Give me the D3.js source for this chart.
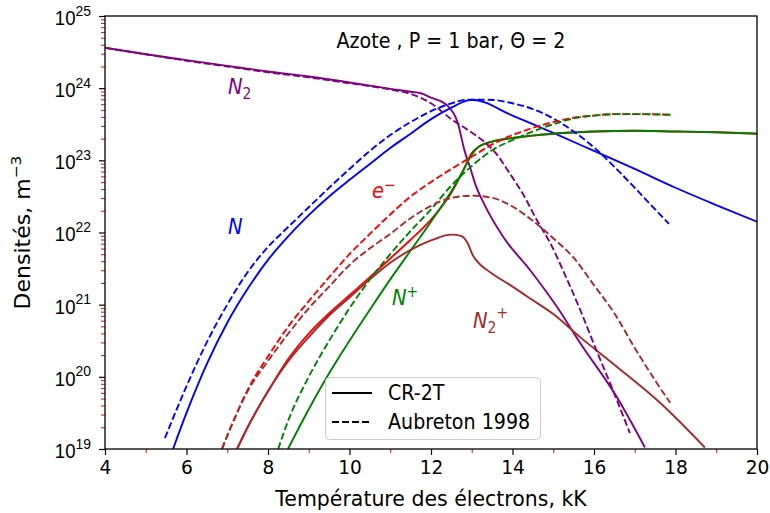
<!DOCTYPE html>
<html>
<head>
<meta charset="utf-8">
<script src="https://cdn.jsdelivr.net/npm/d3@7"></script>
<style>
  html, body { margin: 0; padding: 0; background: #fff; }
  svg { display: block; font-family: "DejaVu Sans", sans-serif; }
</style>
</head>
<body>
<svg id="chart" width="770" height="513"></svg>
<script>
// ---------------- DATA (densities in m^-3, temperatures in kK) ----------------
const xTicks = [4, 6, 8, 10, 12, 14, 16, 18, 20];
const xMinorTicks = [5, 7, 9, 11, 13, 15, 17, 19];
const yTickExponents = [19, 20, 21, 22, 23, 24, 25];

// N2 – CR-2T (solid)
const n2CR_T = [4, 5, 6, 7, 8, 9, 10, 11, 11.5, 11.75, 12.0, 12.4, 12.65, 12.83, 12.96, 13.1, 13.3, 13.77, 14.43, 15.09, 15.66, 16.56, 17.25];
const n2CR_n = [3.63e24, 2.95e24, 2.45e24, 2.04e24, 1.70e24, 1.45e24, 1.20e24, 9.77e23, 8.91e23, 8.51e23, 7.41e23, 5.75e23, 3.39e23, 1.32e23, 7.94e22, 4.47e22, 2.51e22, 8.71e21, 3.02e21, 9.33e20, 2.95e20, 5.25e19, 1.05e19];
// N2 – Aubreton 1998 (dashed)
const n2AU_T = [4, 5, 6, 7, 8, 9, 10, 11, 11.5, 12.0, 12.5, 12.96, 13.3, 13.62, 13.86, 14.27, 14.6, 14.92, 15.3, 15.66, 16.0, 16.56, 16.88];
const n2AU_n = [3.63e24, 2.95e24, 2.40e24, 2.00e24, 1.66e24, 1.41e24, 1.17e24, 9.55e23, 8.32e23, 6.17e23, 3.72e23, 2.51e23, 1.82e23, 1.20e23, 7.59e22, 3.31e22, 1.48e22, 7.24e21, 2.51e21, 8.51e20, 2.82e20, 4.79e19, 1.66e19];

// N – CR-2T
const nCR_T = [5.67, 6.0, 6.5, 7.0, 7.5, 8.0, 8.5, 9.0, 9.5, 10.0, 10.5, 11.0, 11.5, 12.0, 12.5, 12.9, 13.0, 14, 15, 16, 17, 18, 19, 20];
const nCR_n = [1.0e19, 3.16e19, 1.51e20, 5.62e20, 1.66e21, 4.17e21, 8.91e21, 1.74e22, 3.16e22, 5.37e22, 8.91e22, 1.48e23, 2.34e23, 3.72e23, 5.37e23, 6.76e23, 6.92e23, 4.17e23, 2.40e23, 1.35e23, 7.59e22, 4.17e22, 2.40e22, 1.41e22];
// N – Aubreton
const nAU_T = [5.47, 6.0, 6.5, 7.0, 7.5, 8.0, 8.5, 9.0, 9.5, 10.0, 10.5, 11.0, 11.5, 12.0, 12.5, 12.9, 13.4, 14.0, 14.5, 15.0, 15.5, 16.0, 16.5, 17.0, 17.5, 17.84];
const nAU_n = [1.41e19, 7.41e19, 3.02e20, 1.0e21, 2.82e21, 6.31e21, 1.20e22, 2.24e22, 4.17e22, 7.59e22, 1.35e23, 2.24e23, 3.39e23, 4.79e23, 6.17e23, 6.92e23, 6.92e23, 6.17e23, 5.13e23, 3.80e23, 2.51e23, 1.51e23, 8.13e22, 4.17e22, 2.09e22, 1.32e22];

// e- – CR-2T
const eCR_T = [7.24, 7.5, 8.0, 8.5, 9.0, 9.5, 10.0, 10.5, 11.0, 11.5, 12.0, 12.5, 12.8, 13.0, 13.2, 13.5, 14, 15, 16, 17, 18, 19, 20];
const eCR_n = [1.0e19, 2.0e19, 6.31e19, 1.78e20, 3.98e20, 7.59e20, 1.35e21, 2.40e21, 4.37e21, 7.94e21, 1.51e22, 3.55e22, 7.41e22, 1.26e23, 1.58e23, 1.82e23, 2.04e23, 2.34e23, 2.51e23, 2.57e23, 2.51e23, 2.45e23, 2.34e23];
// e- – Aubreton
const eAU_T = [6.87, 7.2, 7.5, 8.0, 8.5, 9.0, 9.5, 10.0, 10.5, 11.0, 11.5, 12.0, 12.5, 13.0, 13.5, 14.0, 14.5, 15.0, 15.5, 16.0, 16.5, 17.0, 17.9];
const eAU_n = [1.0e19, 2.82e19, 6.61e19, 1.91e20, 5.01e20, 1.12e21, 2.40e21, 5.01e21, 9.55e21, 1.78e22, 3.16e22, 5.01e22, 7.59e22, 1.12e23, 1.66e23, 2.24e23, 2.82e23, 3.39e23, 3.89e23, 4.17e23, 4.37e23, 4.37e23, 4.27e23];

// N+ – CR-2T
const npCR_T = [8.49, 9.0, 9.5, 10.0, 10.5, 11.0, 11.5, 12.0, 12.5, 12.8, 13.0, 13.15, 13.5, 14, 15, 16, 17, 18, 19, 20];
const npCR_n = [1.0e19, 3.55e19, 1.12e20, 3.16e20, 8.51e20, 2.24e21, 5.62e21, 1.41e22, 3.72e22, 7.41e22, 1.20e23, 1.51e23, 1.82e23, 2.04e23, 2.34e23, 2.51e23, 2.57e23, 2.51e23, 2.45e23, 2.34e23];
// N+ – Aubreton
const npAU_T = [8.25, 8.5, 9.0, 9.5, 10.0, 10.5, 11.0, 11.5, 12.0, 12.5, 13.0, 13.5, 14.0, 14.5, 15.0, 15.5, 16.0, 16.5, 17.0, 17.9];
const npAU_n = [1.0e19, 2.51e19, 1.0e20, 3.16e20, 8.91e20, 2.24e21, 5.01e21, 1.05e22, 2.09e22, 4.47e22, 8.32e22, 1.38e23, 1.91e23, 2.51e23, 3.16e23, 3.80e23, 4.17e23, 4.37e23, 4.37e23, 4.27e23];

// N2+ – CR-2T
const n2pCR_T = [7.24, 7.5, 8.0, 8.5, 9.0, 9.5, 10.0, 10.5, 11.0, 11.5, 12.0, 12.5, 12.75, 12.9, 13.03, 13.2, 13.45, 14.0, 14.5, 15.0, 15.66, 16.56, 17.62, 18.72];
const n2pCR_n = [1.0e19, 2.0e19, 6.31e19, 1.66e20, 3.55e20, 7.08e20, 1.26e21, 2.24e21, 3.80e21, 5.75e21, 7.76e21, 9.33e21, 8.91e21, 7.08e21, 4.79e21, 3.63e21, 2.82e21, 1.78e21, 1.15e21, 7.41e20, 3.55e20, 1.38e20, 4.37e19, 1.05e19];
// N2+ – Aubreton
const n2pAU_T = [6.87, 7.2, 7.5, 8.0, 8.5, 9.0, 9.5, 10.0, 10.5, 11.0, 11.5, 12.0, 12.5, 13.0, 13.5, 14.0, 14.5, 15.0, 15.5, 16.0, 16.5, 17.0, 17.5, 17.87];
const n2pAU_n = [1.0e19, 2.82e19, 6.31e19, 1.66e20, 3.98e20, 8.91e20, 1.78e21, 3.55e21, 6.03e21, 9.55e21, 1.58e22, 2.34e22, 3.02e22, 3.24e22, 3.02e22, 2.29e22, 1.45e22, 8.32e21, 4.47e21, 1.86e21, 7.59e20, 2.51e20, 8.91e19, 4.37e19];

const seriesNames = ["N2", "N", "e-", "N+", "N2+"];
const seriesColors = ["#800080", "#0000ff", "#ff0000", "#008000", "#a52a2a"];
const legendLabels = ["CR-2T", "Aubreton 1998"];

// ---------------- DRAWING ----------------
const SQ = 0.93; // horizontal squeeze of the glyphs, as in the reference
const svg = d3.select("#chart");
const W = 770, H = 513;
const m = { left: 105, right: 13, top: 16, bottom: 64 };
const x = d3.scaleLinear().domain([4, 20]).range([m.left, W - m.right]);
const y = d3.scaleLog().domain([1e19, 1e25]).range([H - m.bottom, m.top]);

function squeeze(sel) {
  sel.each(function () {
    const L = this.getComputedTextLength();
    d3.select(this).attr("textLength", L * SQ).attr("lengthAdjust", "spacingAndGlyphs");
  });
  return sel;
}

svg.append("rect").attr("width", W).attr("height", H).attr("fill", "#fff");

svg.append("defs").append("clipPath").attr("id", "plotclip")
  .append("rect").attr("x", m.left).attr("y", m.top)
  .attr("width", W - m.left - m.right).attr("height", H - m.top - m.bottom);

const plot = svg.append("g").attr("clip-path", "url(#plotclip)");

const line = d3.line().x(d => x(d[0])).y(d => y(d[1])).curve(d3.curveMonotoneX);
const zipS = (T, n) => T.map((t, i) => [t, n[i]]);

const dashedSeries = [
  [n2AU_T, n2AU_n], [nAU_T, nAU_n], [eAU_T, eAU_n], [npAU_T, npAU_n], [n2pAU_T, n2pAU_n]
];
const solidSeries = [
  [n2CR_T, n2CR_n], [nCR_T, nCR_n], [eCR_T, eCR_n], [npCR_T, npCR_n], [n2pCR_T, n2pCR_n]
];

solidSeries.forEach((s, i) => {
  plot.append("path").datum(zipS(s[0], s[1]))
    .attr("d", line).attr("fill", "none")
    .attr("stroke", seriesColors[i]).attr("stroke-width", 1.9)
    .attr("stroke-linejoin", "round");
});
dashedSeries.forEach((s, i) => {
  plot.append("path").datum(zipS(s[0], s[1]))
    .attr("d", line).attr("fill", "none")
    .attr("stroke", seriesColors[i]).attr("stroke-width", 1.9)
    .attr("stroke-dasharray", "7,3");
});

// ---- axes ----
const xAxis = svg.append("g").attr("transform", `translate(0,${H - m.bottom})`)
  .call(d3.axisBottom(x).tickValues(xTicks).tickSize(6).tickPadding(5).tickFormat(d3.format("d")));
xAxis.select(".domain").remove();
xAxis.selectAll("text").attr("font-size", 20).attr("fill", "#000")
  .attr("font-family", "DejaVu Sans, sans-serif");
squeeze(xAxis.selectAll("text"));
xAxis.selectAll("line").attr("stroke", "#000").attr("stroke-width", 1.2);

const xMinor = svg.append("g").attr("transform", `translate(0,${H - m.bottom})`)
  .call(d3.axisBottom(x).tickValues(xMinorTicks).tickSize(4).tickFormat(""));
xMinor.select(".domain").remove();
xMinor.selectAll("line").attr("stroke", "#e02020").attr("stroke-width", 1.1);

const yMajor = yTickExponents.map(e => Math.pow(10, e));
const yAxis = svg.append("g").attr("transform", `translate(${m.left},0)`)
  .call(d3.axisLeft(y).tickValues(yMajor).tickSize(6).tickPadding(6).tickFormat(""));
yAxis.select(".domain").remove();
yAxis.selectAll("line").attr("stroke", "#000").attr("stroke-width", 1.2);
yAxis.selectAll(".tick").each(function (d) {
  const t = d3.select(this).append("text")
    .attr("x", -14).attr("dy", "0.42em").attr("text-anchor", "end")
    .attr("fill", "#000").attr("font-size", 20);
  t.append("tspan").text("10");
  t.append("tspan").attr("font-size", 15).attr("dy", "-0.62em")
    .text(String(Math.round(Math.log10(d))));
  squeeze(t);
});

const yMinorVals = [];
yTickExponents.slice(0, -1).forEach(e => { for (let k = 2; k <= 9; k++) yMinorVals.push(k * Math.pow(10, e)); });
const yMinor = svg.append("g").attr("transform", `translate(${m.left},0)`)
  .call(d3.axisLeft(y).tickValues(yMinorVals).tickSize(4).tickFormat(""));
yMinor.select(".domain").remove();
yMinor.selectAll("line").attr("stroke", "#e02020").attr("stroke-width", 1.1);

// frame
svg.append("rect").attr("x", m.left).attr("y", m.top)
  .attr("width", W - m.left - m.right).attr("height", H - m.top - m.bottom)
  .attr("fill", "none").attr("stroke", "#000").attr("stroke-width", 1.3);

// axis labels
squeeze(svg.append("text").attr("x", (m.left + W - m.right) / 2).attr("y", 506)
  .attr("text-anchor", "middle").attr("font-size", 22).attr("fill", "#000")
  .text("Température des électrons, kK"));

const yl = svg.append("text")
  .attr("transform", `translate(30,${(m.top + H - m.bottom) / 2}) scale(${SQ},1) rotate(-90)`)
  .attr("text-anchor", "middle").attr("font-size", 22).attr("fill", "#000");
yl.append("tspan").text("Densités, m");
yl.append("tspan").attr("font-size", 15.5).attr("dy", "-0.6em").text("−3");

// title inside plot
squeeze(svg.append("text").attr("x", 451).attr("y", 48).attr("text-anchor", "middle")
  .attr("font-size", 20.5).attr("fill", "#000").text("Azote , P = 1 bar, Θ = 2"));

// curve labels
function mathLabel(xp, yp, color, base, sub, sup) {
  const t = svg.append("text").attr("x", xp).attr("y", yp).attr("fill", color).attr("font-size", 21);
  t.append("tspan").attr("font-style", "italic").text(base);
  if (sub) t.append("tspan").attr("font-size", 15).attr("dy", "0.3em").text(sub);
  if (sup) t.append("tspan").attr("font-size", 15).attr("dy", sub ? "-0.95em" : "-0.55em").text(sup);
  squeeze(t);
}
mathLabel(228, 94, seriesColors[0], "N", "2", null);
mathLabel(228, 234, seriesColors[1], "N", null, null);
mathLabel(372, 198, seriesColors[2], "e", null, "−");
mathLabel(392, 305, seriesColors[3], "N", null, "+");
mathLabel(473, 328, seriesColors[4], "N", "2", "+");

// legend
const lg = svg.append("g");
lg.append("rect").attr("x", 325.5).attr("y", 377.5).attr("width", 215).attr("height", 62)
  .attr("rx", 4).attr("fill", "#fff").attr("fill-opacity", 0.85)
  .attr("stroke", "#cccccc").attr("stroke-width", 1);
lg.append("line").attr("x1", 332).attr("x2", 372).attr("y1", 393).attr("y2", 393)
  .attr("stroke", "#000").attr("stroke-width", 1.9);
lg.append("line").attr("x1", 332).attr("x2", 372).attr("y1", 422).attr("y2", 422)
  .attr("stroke", "#000").attr("stroke-width", 1.9).attr("stroke-dasharray", "7,3");
squeeze(lg.append("text").attr("x", 388).attr("y", 400).attr("font-size", 20.5).attr("fill", "#000").text(legendLabels[0]));
squeeze(lg.append("text").attr("x", 388).attr("y", 429).attr("font-size", 20.5).attr("fill", "#000").text(legendLabels[1]));
</script>
</body>
</html>
